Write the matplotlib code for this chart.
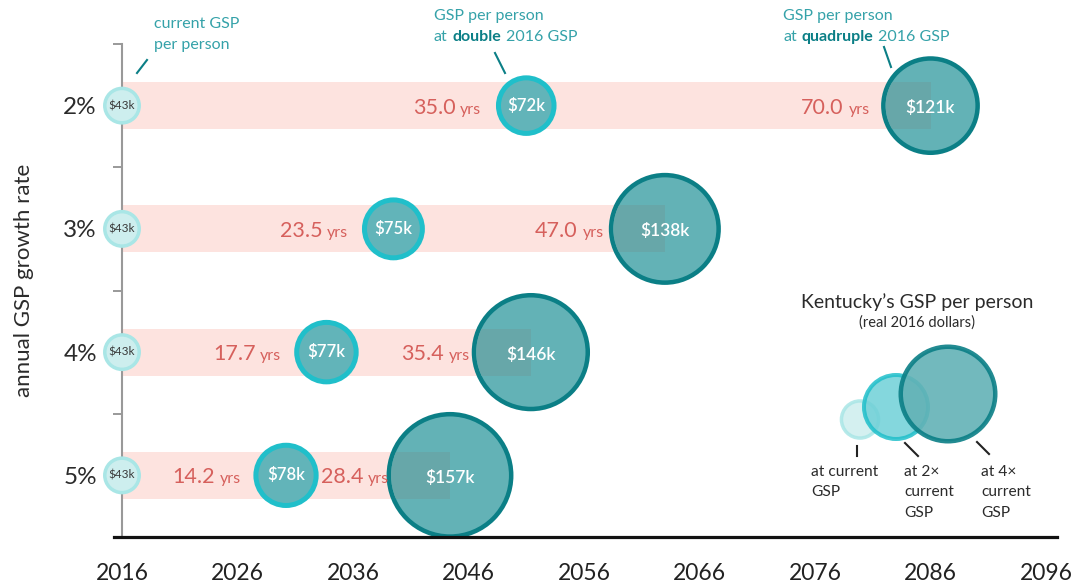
import matplotlib
matplotlib.use("Agg")
import matplotlib.pyplot as plt
import numpy as np
from matplotlib.patches import Circle
from matplotlib.transforms import ScaledTranslation

# data
rates = ["2%", "3%", "4%", "5%"]
start_year = 2016
current_gsp = [43, 43, 43, 43]
double_years = [35.0, 23.5, 17.7, 14.2]
double_gsp = [72, 75, 77, 78]
quad_years = [70.0, 47.0, 35.4, 28.4]
quad_gsp = [121, 138, 146, 157]
year_ticks = list(range(2016, 2097, 10))

plt.rcParams["font.family"] = ["Lato", "DejaVu Sans"]
plt.rcParams["font.weight"] = "normal"

W, H = 1074, 588
PX = 0.72  # points per pixel at dpi 100
fig = plt.figure(figsize=(W / 100, H / 100), dpi=100)

teal = "#35a2a9"
dark_teal = "#0b7f86"
red = "#d6605c"
grey_txt = "#2b2b2b"


def radius_px(v):
    # outer radius of a bubble (px), linear in GSP
    return 2.2 + 0.39 * v


def msize(v, lw_px):
    d = 2 * radius_px(v) - lw_px
    return (d * PX) ** 2


ax = fig.add_axes([122 / W, 1 - 537 / H, (1046 - 122) / W, (537 - 44) / H])
ax.set_xlim(2016, 2096)
ax.set_ylim(3.5, -0.5)

y = np.arange(len(rates))
dbl_x = start_year + np.array(double_years)
quad_x = start_year + np.array(quad_years)
bar_h = 0.38

# pink bars
ax.barh(y, quad_years, left=start_year, height=bar_h, color="#fde3df", lw=0, zorder=1)

# quadruple bubbles
quad_lw = 4.5
ax.scatter(quad_x, y, s=[msize(v, quad_lw) for v in quad_gsp], c="#63b2b6",
           edgecolors=dark_teal, linewidths=quad_lw * PX, zorder=2, clip_on=False)

# bar seen through the big bubbles (darker)
for xi, yi, v in zip(quad_x, y, quad_gsp):
    seg = ax.barh(yi, xi - start_year, left=start_year, height=bar_h,
                  color="#67a7a9", lw=0, zorder=2.5)[0]
    r_in = (radius_px(v) - quad_lw) / 100
    clip = Circle((0, 0), r_in,
                  transform=fig.dpi_scale_trans + ScaledTranslation(xi, yi, ax.transData))
    seg.set_clip_path(clip)

# double bubbles
dbl_lw = 5
ax.scatter(dbl_x, y, s=[msize(v, dbl_lw) for v in double_gsp], c="#62b4b9",
           edgecolors="#20bfca", linewidths=dbl_lw * PX, zorder=3, clip_on=False)

# current bubbles
cur_lw = 3.5
ax.scatter([start_year] * len(y), y, s=[msize(v, cur_lw) for v in current_gsp],
           c="#cdeeee", edgecolors="#a9e6e6", linewidths=cur_lw * PX, zorder=3,
           clip_on=False)

# bubble labels
for yi, v in zip(y, current_gsp):
    ax.text(start_year, yi, f"${v}k", ha="center", va="center", fontsize=8.5,
            color="#3a3a3a", zorder=5)
for xi, yi, v in zip(dbl_x, y, double_gsp):
    ax.text(xi, yi, f"${v}k", ha="center", va="center", fontsize=12,
            color="white", fontweight="semibold", zorder=5)
for xi, yi, v in zip(quad_x, y, quad_gsp):
    ax.text(xi, yi + 0.02, f"${v}k", ha="center", va="center", fontsize=12.5,
            color="white", fontweight="semibold", zorder=5)


def year_label(x, yv, n, off_px):
    t = ax.annotate("yrs", xy=(x, yv), xytext=(-off_px * PX, -5.8), textcoords="offset points",
                    ha="right", va="baseline", fontsize=11.5, color=red, zorder=5)
    ax.annotate(f"{n:.1f}", xy=(0, yv), xycoords=(t, "data"), xytext=(-3.5, -5.8),
                textcoords="offset points", ha="right", va="baseline", fontsize=15.5,
                color=red, zorder=5)


for xi, yi, n in zip(dbl_x, y, double_years):
    year_label(xi, yi, n, 45)
for xi, yi, n in zip(quad_x, y, quad_years):
    year_label(xi, yi, n, 61)

# axes styling
for s in ["top", "right", "bottom"]:
    ax.spines[s].set_visible(False)
ax.spines["left"].set_color("#999999")
ax.spines["left"].set_linewidth(1.5)
ax.set_yticks(y)
ax.set_yticklabels(rates)
ax.set_yticks([-0.5, 0.5, 1.5, 2.5, 3.5], minor=True)
ax.tick_params(axis="y", which="major", length=0, pad=18, labelsize=17.5, labelcolor=grey_txt)
ax.tick_params(axis="y", which="minor", length=6.5, width=1.4, color="#999999")
ax.set_xticks(year_ticks)
ax.set_xticklabels([str(t) for t in year_ticks])
ax.tick_params(axis="x", length=0, pad=19, labelsize=16.5, labelcolor="#222222")
ax.plot([-8 / 924, 1 + 11 / 924], [0, 0], transform=ax.transAxes, color="#111111",
        lw=2.3, clip_on=False, zorder=6)
ax.set_facecolor("none")

# overlay in pixel coordinates for notes and legend
ov = fig.add_axes([0, 0, 1, 1])
ov.set_xlim(0, W)
ov.set_ylim(H, 0)
ov.axis("off")
ov.patch.set_alpha(0)

ov.text(24, 280, "annual GSP growth rate", rotation=90, ha="center", va="center",
        fontsize=16, color=grey_txt)

# top notes
ov.text(154, 24, "current GSP", va="center", fontsize=11.5, color=teal)
ov.text(154, 45, "per person", va="center", fontsize=11.5, color=teal)
ov.plot([137, 147], [73, 60], color=dark_teal, lw=1.5)


def note(x0, word):
    ov.text(x0, 16, "GSP per person", va="center", fontsize=11.5, color=teal)
    t1 = ov.text(x0, 37, "at", va="center", fontsize=11.5, color=teal)
    t2 = ov.annotate(word, xy=(1, 0), xycoords=t1, xytext=(3.5, 0), textcoords="offset points",
                     va="bottom", fontsize=11.5, color=dark_teal, fontweight="bold")
    ov.annotate("2016 GSP", xy=(1, 0), xycoords=t2, xytext=(3.5, 0), textcoords="offset points",
                va="bottom", fontsize=11.5, color=teal)


note(434, "double")
note(783, "quadruple")
ov.plot([495, 505], [53, 73], color=dark_teal, lw=1.5)
ov.plot([884, 891], [47, 67], color=dark_teal, lw=1.5)

# legend
ov.text(917, 302, "Kentucky\u2019s GSP per person", ha="center", va="center",
        fontsize=14, color=grey_txt)
ov.text(917, 323, "(real 2016 dollars)", ha="center", va="center", fontsize=10.5,
        color=grey_txt)
ov.add_patch(Circle((860, 419.5), 20.3 - 1.75, facecolor="#cdeeee", edgecolor="#a9e6e6",
                    lw=3.5 * PX, alpha=0.85))
ov.add_patch(Circle((896, 407), 34 - 2, facecolor="#6fd0d7", edgecolor="#20bfca",
                    lw=4 * PX, alpha=0.85))
ov.add_patch(Circle((948, 394), 49.5 - 2.25, facecolor="#63b2b6", edgecolor=dark_teal,
                    lw=4.5 * PX, alpha=0.9))
ov.plot([857, 857], [446, 456], color="#222222", lw=1.5)
ov.plot([905, 918], [443, 456], color="#222222", lw=1.5)
ov.plot([977, 989], [442, 454], color="#222222", lw=1.5)
for x0, lines in [(811, ["at current", "GSP"]), (904, ["at 2\u00d7", "current", "GSP"]),
                  (981, ["at 4\u00d7", "current", "GSP"])]:
    for i, s in enumerate(lines):
        ov.text(x0, 472 + 20.5 * i, s, va="center", fontsize=11.2, color=grey_txt)

fig.savefig("out.png", dpi=100)
